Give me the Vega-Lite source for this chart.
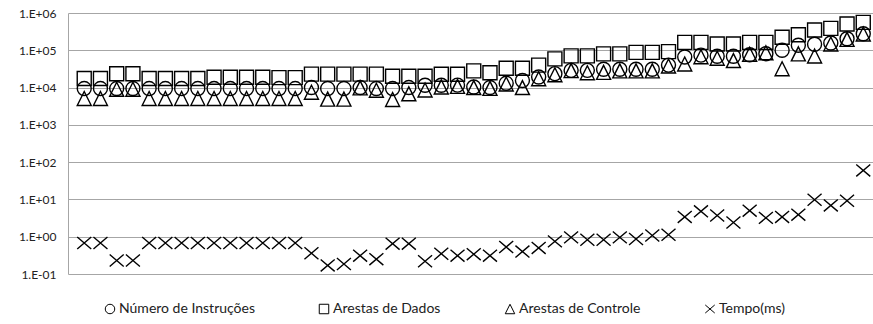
{
  "$schema": "https://vega.github.io/schema/vega-lite/v6.json",
  "width": 805,
  "height": 261,
  "autosize": {"type": "none"},
  "padding": {"left": 68, "top": 13, "right": 0, "bottom": 50},
  "background": "white",
  "config": {
    "view": {"stroke": null},
    "font": "Lato"
  },
  "data": {
    "values": [
      {"x": 1, "Número de Instruções": 9400, "Arestas de Dados": 17500, "Arestas de Controle": 5100, "Tempo(ms)": 0.68},
      {"x": 2, "Número de Instruções": 9400, "Arestas de Dados": 17500, "Arestas de Controle": 5100, "Tempo(ms)": 0.68},
      {"x": 3, "Número de Instruções": 9400, "Arestas de Dados": 23500, "Arestas de Controle": 9000, "Tempo(ms)": 0.23},
      {"x": 4, "Número de Instruções": 9400, "Arestas de Dados": 23500, "Arestas de Controle": 9000, "Tempo(ms)": 0.23},
      {"x": 5, "Número de Instruções": 9400, "Arestas de Dados": 17500, "Arestas de Controle": 5100, "Tempo(ms)": 0.68},
      {"x": 6, "Número de Instruções": 9400, "Arestas de Dados": 17500, "Arestas de Controle": 5100, "Tempo(ms)": 0.68},
      {"x": 7, "Número de Instruções": 9400, "Arestas de Dados": 17500, "Arestas de Controle": 5100, "Tempo(ms)": 0.68},
      {"x": 8, "Número de Instruções": 9400, "Arestas de Dados": 17500, "Arestas de Controle": 5100, "Tempo(ms)": 0.68},
      {"x": 9, "Número de Instruções": 9400, "Arestas de Dados": 19000, "Arestas de Controle": 5100, "Tempo(ms)": 0.68},
      {"x": 10, "Número de Instruções": 9400, "Arestas de Dados": 19000, "Arestas de Controle": 5100, "Tempo(ms)": 0.68},
      {"x": 11, "Número de Instruções": 9400, "Arestas de Dados": 19000, "Arestas de Controle": 5100, "Tempo(ms)": 0.68},
      {"x": 12, "Número de Instruções": 9400, "Arestas de Dados": 19000, "Arestas de Controle": 5100, "Tempo(ms)": 0.68},
      {"x": 13, "Número de Instruções": 9400, "Arestas de Dados": 18500, "Arestas de Controle": 5100, "Tempo(ms)": 0.68},
      {"x": 14, "Número de Instruções": 9400, "Arestas de Dados": 18500, "Arestas de Controle": 5100, "Tempo(ms)": 0.68},
      {"x": 15, "Número de Instruções": 10000, "Arestas de Dados": 23000, "Arestas de Controle": 7500, "Tempo(ms)": 0.36},
      {"x": 16, "Número de Instruções": 9400, "Arestas de Dados": 23000, "Arestas de Controle": 4900, "Tempo(ms)": 0.17},
      {"x": 17, "Número de Instruções": 9400, "Arestas de Dados": 23000, "Arestas de Controle": 4900, "Tempo(ms)": 0.185},
      {"x": 18, "Número de Instruções": 10000, "Arestas de Dados": 23000, "Arestas de Controle": 9800, "Tempo(ms)": 0.31},
      {"x": 19, "Número de Instruções": 9400, "Arestas de Dados": 23000, "Arestas de Controle": 8500, "Tempo(ms)": 0.25},
      {"x": 20, "Número de Instruções": 9400, "Arestas de Dados": 20200, "Arestas de Controle": 4800, "Tempo(ms)": 0.65},
      {"x": 21, "Número de Instruções": 10000, "Arestas de Dados": 20200, "Arestas de Controle": 6800, "Tempo(ms)": 0.65},
      {"x": 22, "Número de Instruções": 11500, "Arestas de Dados": 20200, "Arestas de Controle": 8600, "Tempo(ms)": 0.22},
      {"x": 23, "Número de Instruções": 11500, "Arestas de Dados": 22800, "Arestas de Controle": 10400, "Tempo(ms)": 0.35},
      {"x": 24, "Número de Instruções": 11600, "Arestas de Dados": 22800, "Arestas de Controle": 10800, "Tempo(ms)": 0.31},
      {"x": 25, "Número de Instruções": 10400, "Arestas de Dados": 28000, "Arestas de Controle": 10000, "Tempo(ms)": 0.34},
      {"x": 26, "Número de Instruções": 10000, "Arestas de Dados": 25000, "Arestas de Controle": 9500, "Tempo(ms)": 0.31},
      {"x": 27, "Número de Instruções": 13000, "Arestas de Dados": 33000, "Arestas de Controle": 12500, "Tempo(ms)": 0.53},
      {"x": 28, "Número de Instruções": 15500, "Arestas de Dados": 33000, "Arestas de Controle": 10000, "Tempo(ms)": 0.40},
      {"x": 29, "Número de Instruções": 19200, "Arestas de Dados": 40000, "Arestas de Controle": 17300, "Tempo(ms)": 0.50},
      {"x": 30, "Número de Instruções": 23600, "Arestas de Dados": 59000, "Arestas de Controle": 22000, "Tempo(ms)": 0.75},
      {"x": 31, "Número de Instruções": 29000, "Arestas de Dados": 71000, "Arestas de Controle": 28500, "Tempo(ms)": 0.96},
      {"x": 32, "Número de Instruções": 29000, "Arestas de Dados": 71000, "Arestas de Controle": 25000, "Tempo(ms)": 0.83},
      {"x": 33, "Número de Instruções": 31000, "Arestas de Dados": 80000, "Arestas de Controle": 25500, "Tempo(ms)": 0.83},
      {"x": 34, "Número de Instruções": 31000, "Arestas de Dados": 80000, "Arestas de Controle": 28000, "Tempo(ms)": 0.96},
      {"x": 35, "Número de Instruções": 31000, "Arestas de Dados": 88000, "Arestas de Controle": 28000, "Tempo(ms)": 0.87},
      {"x": 36, "Número de Instruções": 31000, "Arestas de Dados": 88000, "Arestas de Controle": 28000, "Tempo(ms)": 1.08},
      {"x": 37, "Número de Instruções": 40000, "Arestas de Dados": 92000, "Arestas de Controle": 38000, "Tempo(ms)": 1.13},
      {"x": 38, "Número de Instruções": 66000, "Arestas de Dados": 163000, "Arestas de Controle": 43000, "Tempo(ms)": 3.4},
      {"x": 39, "Número de Instruções": 74000, "Arestas de Dados": 163000, "Arestas de Controle": 67000, "Tempo(ms)": 4.8},
      {"x": 40, "Número de Instruções": 69000, "Arestas de Dados": 147000, "Arestas de Controle": 61000, "Tempo(ms)": 3.7},
      {"x": 41, "Número de Instruções": 69000, "Arestas de Dados": 147000, "Arestas de Controle": 53000, "Tempo(ms)": 2.4},
      {"x": 42, "Número de Instruções": 76000, "Arestas de Dados": 163000, "Arestas de Controle": 78000, "Tempo(ms)": 5.0},
      {"x": 43, "Número de Instruções": 81000, "Arestas de Dados": 163000, "Arestas de Controle": 86000, "Tempo(ms)": 3.2},
      {"x": 44, "Número de Instruções": 100000, "Arestas de Dados": 223000, "Arestas de Controle": 32000, "Tempo(ms)": 3.4},
      {"x": 45, "Número de Instruções": 136000, "Arestas de Dados": 262000, "Arestas de Controle": 80000, "Tempo(ms)": 3.9},
      {"x": 46, "Número de Instruções": 145000, "Arestas de Dados": 350000, "Arestas de Controle": 70000, "Tempo(ms)": 9.8},
      {"x": 47, "Número de Instruções": 157000, "Arestas de Dados": 388000, "Arestas de Controle": 147000, "Tempo(ms)": 6.9},
      {"x": 48, "Número de Instruções": 204000, "Arestas de Dados": 505000, "Arestas de Controle": 196000, "Tempo(ms)": 9.2},
      {"x": 49, "Número de Instruções": 278000, "Arestas de Dados": 560000, "Arestas de Controle": 274000, "Tempo(ms)": 60}
    ]
  },
  "transform": [
    {"fold": ["Número de Instruções", "Arestas de Dados", "Arestas de Controle", "Tempo(ms)"], "as": ["serie", "valor"]}
  ],
  "mark": {"type": "point", "filled": false, "strokeWidth": 1.4, "size": 196, "opacity": 1, "color": "black"},
  "encoding": {
    "x": {"field": "x", "type": "quantitative", "scale": {"domain": [0, 49.6], "nice": false, "zero": false}, "axis": null},
    "y": {
      "field": "valor", "type": "quantitative",
      "scale": {"type": "log", "domain": [0.1, 1000000], "nice": false},
      "axis": {
        "title": null,
        "values": [0.1, 1, 10, 100, 1000, 10000, 100000, 1000000],
        "labelExpr": "'1.E' + (datum.value < 1 ? '-01' : '+0' + round(log(datum.value)/LN10))",
        "ticks": false,
        "labelPadding": 12,
        "labelFontSize": 12,
        "labelColor": "#222",
        "labelFont": "Lato",
        "domainColor": "#a6a6a6",
        "domainWidth": 1,
        "gridColor": "#a6a6a6",
        "gridWidth": 1,
        "grid": true
      }
    },
    "shape": {
      "field": "serie", "type": "nominal",
      "scale": {
        "domain": ["Número de Instruções", "Arestas de Dados", "Arestas de Controle", "Tempo(ms)"],
        "range": ["circle", "square", "M0,-1L1,1L-1,1Z", "M-1,-0.85L1,0.85M-1,0.85L1,-0.85"]
      },
      "legend": {
        "title": null,
        "orient": "none",
        "legendX": 35,
        "legendY": 289,
        "direction": "horizontal",
        "columns": 4,
        "columnPadding": 62,
        "symbolSize": 90,
        "symbolStrokeWidth": 1,
        "symbolStrokeColor": "black",
        "symbolFillColor": "transparent",
        "labelFont": "Lato",
        "labelFontSize": 14,
        "labelColor": "#222",
        "labelOffset": 2
      }
    }
  }
}
